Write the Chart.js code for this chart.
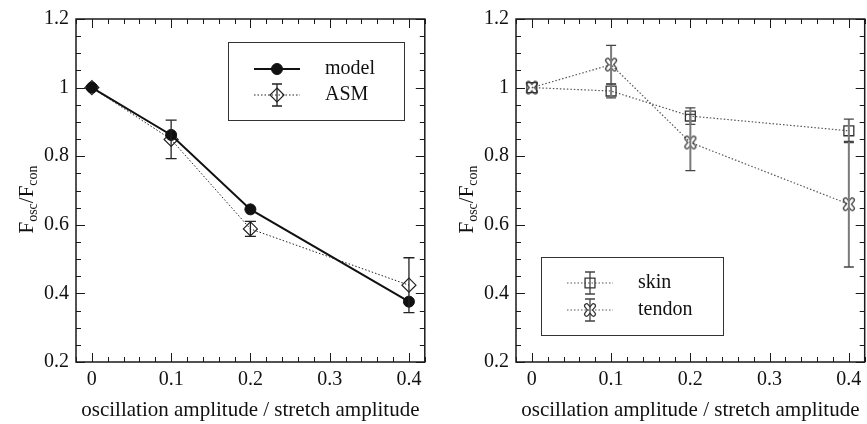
<!DOCTYPE html>
<html>
<head>
<meta charset="utf-8">
<script src="https://cdn.jsdelivr.net/npm/chart.js@4.4.0/dist/chart.umd.min.js"></script>
<style>
    html, body { margin: 0; padding: 0; background: #fff; overflow: hidden; width: 867px; height: 424px; }
    #wrapLeft { position: absolute; left: 0; top: 0; }
    #wrapRight { position: absolute; left: 433px; top: 0; }
</style>
</head>
<body>
<div id="wrapLeft"><canvas id="leftChart" width="433" height="424"></canvas></div>
<div id="wrapRight"><canvas id="rightChart" width="440" height="424"></canvas></div>
<script>
// data
const amplitudes = [0, 0.1, 0.2, 0.4];
const modelValues = [1.0, 0.862, 0.645, 0.376];
const asmValues = [1.0, 0.849, 0.588, 0.424];
const asmErrors = [0, 0.056, 0.022, 0.08];
const skinValues = [1.0, 0.99, 0.917, 0.874];
const skinErrors = [0, 0.02, 0.024, 0.034];
const tendonValues = [1.0, 1.067, 0.84, 0.66];
const tendonErrors = [0, 0.056, 0.082, 0.183];

const xTitle = 'oscillation amplitude / stretch amplitude';
const SERIF = '"Liberation Serif", "Times New Roman", serif';
const INK = '#111';

const toPoints = vals => amplitudes.map((x, i) => ({ x: x, y: vals[i] }));
const isMult = (v, step) => Math.abs(v / step - Math.round(v / step)) < 1e-6;
const fmt = v => String(Math.round(v * 100) / 100);

// outlined fat X marker used for "tendon"
function makeCrossMarker(color) {
    const c = document.createElement('canvas');
    c.width = 16; c.height = 16;
    const g = c.getContext('2d');
    const arms = () => {
        g.beginPath();
        g.moveTo(4.6, 3.8); g.lineTo(11.4, 12.2);
        g.moveTo(11.4, 3.8); g.lineTo(4.6, 12.2);
        g.stroke();
    };
    g.lineCap = 'round';
    g.strokeStyle = color;
    g.lineWidth = 5.2;
    arms();
    g.globalCompositeOperation = 'destination-out';
    g.lineWidth = 2.8;
    arms();
    return c;
}
const tendonMarker = makeCrossMarker('#333');

function drawMarker(ctx, ds, x, y) {
    const style = ds.pointStyle;
    const r = ds.pointRadius;
    ctx.save();
    ctx.lineWidth = ds.pointBorderWidth || 1;
    ctx.strokeStyle = ds.pointBorderColor || ds.borderColor;
    ctx.fillStyle = ds.pointBackgroundColor || 'transparent';
    ctx.setLineDash([]);
    if (style instanceof HTMLCanvasElement) {
        ctx.drawImage(style, x - style.width / 2, y - style.height / 2);
    } else {
        ctx.beginPath();
        if (style === 'rectRot') {
            ctx.moveTo(x, y - r); ctx.lineTo(x + r, y); ctx.lineTo(x, y + r); ctx.lineTo(x - r, y); ctx.closePath();
        } else if (style === 'rect') {
            const s = Math.SQRT1_2 * r;
            ctx.rect(x - s, y - s, 2 * s, 2 * s);
        } else {
            ctx.arc(x, y, r, 0, Math.PI * 2);
        }
        ctx.fill();
        ctx.stroke();
    }
    ctx.restore();
}

// frame and inward ticks on all four sides
const frameTicks = {
    id: 'frameTicks',
    afterDraw(chart) {
        const ctx = chart.ctx;
        const a = chart.chartArea;
        const xs = chart.scales.x, ys = chart.scales.y;
        ctx.save();
        ctx.strokeStyle = '#1a1a1a';
        ctx.lineWidth = 1;
        ctx.beginPath();
        xs.ticks.forEach(t => {
            const px = Math.round(xs.getPixelForValue(t.value)) + 0.5;
            const len = (isMult(t.value, 0.1) && t.value >= 0) ? 9 : 5;
            ctx.moveTo(px, a.bottom); ctx.lineTo(px, a.bottom - len);
            ctx.moveTo(px, a.top); ctx.lineTo(px, a.top + len);
        });
        ys.ticks.forEach(t => {
            const py = Math.round(ys.getPixelForValue(t.value)) + 0.5;
            const len = isMult(t.value, 0.2) ? 9 : 5;
            ctx.moveTo(a.left, py); ctx.lineTo(a.left + len, py);
            ctx.moveTo(a.right, py); ctx.lineTo(a.right - len, py);
        });
        ctx.stroke();
        ctx.lineWidth = 1.5;
        ctx.strokeRect(a.left, a.top, a.right - a.left, a.bottom - a.top);
        ctx.restore();
    }
};

// vertical error bars from dataset.errors
const errorBars = {
    id: 'errorBars',
    afterDatasetsDraw(chart, args, opts) {
        const ctx = chart.ctx;
        const ys = chart.scales.y;
        chart.data.datasets.forEach((ds, di) => {
            if (!ds.errors) return;
            const meta = chart.getDatasetMeta(di);
            meta.data.forEach((pt, i) => {
                const e = ds.errors[i];
                if (!e) return;
                const v = ds.data[i].y;
                const top = ys.getPixelForValue(v + e);
                const bot = ys.getPixelForValue(v - e);
                const x = pt.x;
                ctx.save();
                ctx.setLineDash([]);
                ctx.strokeStyle = opts.color;
                ctx.lineWidth = opts.width;
                ctx.beginPath();
                ctx.moveTo(x, top); ctx.lineTo(x, bot);
                ctx.stroke();
                ctx.strokeStyle = opts.capColor;
                ctx.lineWidth = 1.3;
                ctx.beginPath();
                ctx.moveTo(x - opts.cap, top); ctx.lineTo(x + opts.cap, top);
                ctx.moveTo(x - opts.cap, bot); ctx.lineTo(x + opts.cap, bot);
                ctx.stroke();
                ctx.restore();
            });
        });
    }
};

// y title with subscripts: F_osc / F_con
const yTitle = {
    id: 'yTitle',
    afterDraw(chart, args, opts) {
        const ctx = chart.ctx;
        const a = chart.chartArea;
        const big = 21, small = 14;
        const parts = [['F', big, 0], ['osc', small, 4], ['/F', big, 0], ['con', small, 4]];
        ctx.save();
        let total = 0;
        parts.forEach(p => { ctx.font = p[1] + 'px ' + SERIF; total += ctx.measureText(p[0]).width; });
        ctx.translate(opts.x, (a.top + a.bottom) / 2 + 9);
        ctx.rotate(-Math.PI / 2);
        ctx.fillStyle = INK;
        ctx.textBaseline = 'alphabetic';
        let cx = -total / 2;
        parts.forEach(p => {
            ctx.font = p[1] + 'px ' + SERIF;
            ctx.fillText(p[0], cx, p[2]);
            cx += ctx.measureText(p[0]).width;
        });
        ctx.restore();
    }
};

// boxed legend inside the plot
const boxLegend = {
    id: 'boxLegend',
    afterDraw(chart, args, opts) {
        const ctx = chart.ctx;
        ctx.save();
        ctx.strokeStyle = '#333';
        ctx.lineWidth = 1;
        ctx.strokeRect(opts.x + 0.5, opts.y + 0.5, opts.w, opts.h);
        chart.data.datasets.forEach((ds, i) => {
            const y = opts.rows[i];
            ctx.save();
            ctx.strokeStyle = ds.borderColor;
            ctx.lineWidth = ds.borderWidth;
            ctx.setLineDash(ds.borderDash || []);
            ctx.beginPath();
            ctx.moveTo(opts.lineX0, y); ctx.lineTo(opts.lineX1, y);
            ctx.stroke();
            ctx.restore();
            const mx = (opts.lineX0 + opts.lineX1) / 2;
            if (ds.errors) {
                ctx.save();
                ctx.strokeStyle = opts.barColor;
                ctx.lineWidth = 1.3;
                ctx.beginPath();
                ctx.moveTo(mx, y - 11); ctx.lineTo(mx, y + 11);
                ctx.moveTo(mx - 5, y - 11); ctx.lineTo(mx + 5, y - 11);
                ctx.moveTo(mx - 5, y + 11); ctx.lineTo(mx + 5, y + 11);
                ctx.stroke();
                ctx.restore();
            }
            drawMarker(ctx, ds, mx, y);
            ctx.fillStyle = INK;
            ctx.font = '20px ' + SERIF;
            ctx.textBaseline = 'middle';
            ctx.fillText(ds.label, opts.textX, y);
        });
        ctx.restore();
    }
};

function makeScales(yWidth) {
    const tickFont = { family: SERIF, size: 20 };
    return {
        x: {
            type: 'linear', min: -0.02, max: 0.42,
            grid: { display: false, drawTicks: false },
            border: { display: false },
            ticks: {
                stepSize: 0.02, autoSkip: false, maxRotation: 0, padding: 6, color: INK, font: tickFont,
                callback: v => (isMult(v, 0.1) && v >= 0 && v <= 0.4) ? fmt(v) : ''
            },
            title: { display: true, text: xTitle, color: INK, font: { family: SERIF, size: 21 }, padding: { top: 0, bottom: 1 } },
            afterFit: s => { s.height = 62; }
        },
        y: {
            type: 'linear', min: 0.2, max: 1.2,
            grid: { display: false, drawTicks: false },
            border: { display: false },
            ticks: {
                stepSize: 0.05, autoSkip: false, padding: 7, color: INK, font: tickFont,
                callback: v => isMult(v, 0.2) ? fmt(v) : ''
            },
            afterFit: s => { s.width = yWidth; }
        }
    };
}

// Left panel: model vs ASM
const leftChart = new Chart(document.getElementById('leftChart'), {
    type: 'line',
    data: {
        datasets: [{
            label: 'model',
            data: toPoints(modelValues),
            borderColor: '#111',
            borderWidth: 2,
            pointStyle: 'circle',
            pointRadius: 5.5,
            pointBackgroundColor: '#111',
            pointBorderColor: '#111',
            pointBorderWidth: 1
        }, {
            label: 'ASM',
            data: toPoints(asmValues),
            errors: asmErrors,
            borderColor: '#222',
            borderWidth: 1,
            borderDash: [1.5, 2],
            pointStyle: 'rectRot',
            pointRadius: 7,
            pointBackgroundColor: 'rgba(0,0,0,0)',
            pointBorderColor: '#222',
            pointBorderWidth: 1.2
        }]
    },
    options: {
        responsive: false,
        animation: false,
        layout: { padding: { left: 0, right: 3, top: 17, bottom: 0 } },
        scales: makeScales(76),
        plugins: {
            legend: { display: false },
            tooltip: { enabled: false },
            errorBars: { color: '#222', capColor: '#222', width: 1.3, cap: 5.5 },
            yTitle: { x: 33 },
            boxLegend: { x: 228, y: 42, w: 176, h: 78, rows: [69, 95], lineX0: 254, lineX1: 300, textX: 325, barColor: '#222' }
        }
    },
    plugins: [frameTicks, errorBars, yTitle, boxLegend]
});

// Right panel: skin vs tendon
const rightChart = new Chart(document.getElementById('rightChart'), {
    type: 'line',
    data: {
        datasets: [{
            label: 'skin',
            data: toPoints(skinValues),
            errors: skinErrors,
            borderColor: '#555',
            borderWidth: 1.2,
            borderDash: [1.5, 2],
            pointStyle: 'rect',
            pointRadius: 7,
            pointBackgroundColor: 'rgba(0,0,0,0)',
            pointBorderColor: '#333',
            pointBorderWidth: 1.3
        }, {
            label: 'tendon',
            data: toPoints(tendonValues),
            errors: tendonErrors,
            borderColor: '#555',
            borderWidth: 1.2,
            borderDash: [1.5, 2],
            pointStyle: tendonMarker,
            pointRadius: 6,
            pointBorderColor: '#333',
            pointBorderWidth: 1.3
        }]
    },
    options: {
        responsive: false,
        animation: false,
        layout: { padding: { left: 0, right: 4, top: 17, bottom: 0 } },
        scales: makeScales(83),
        plugins: {
            legend: { display: false },
            tooltip: { enabled: false },
            errorBars: { color: '#7a7a7a', capColor: '#444', width: 2, cap: 5 },
            yTitle: { x: 39.5 },
            boxLegend: { x: 108, y: 257, w: 182, h: 78, rows: [283, 310], lineX0: 134, lineX1: 180, textX: 205, barColor: '#444' }
        }
    },
    plugins: [frameTicks, errorBars, yTitle, boxLegend]
});
</script>
</body>
</html>
